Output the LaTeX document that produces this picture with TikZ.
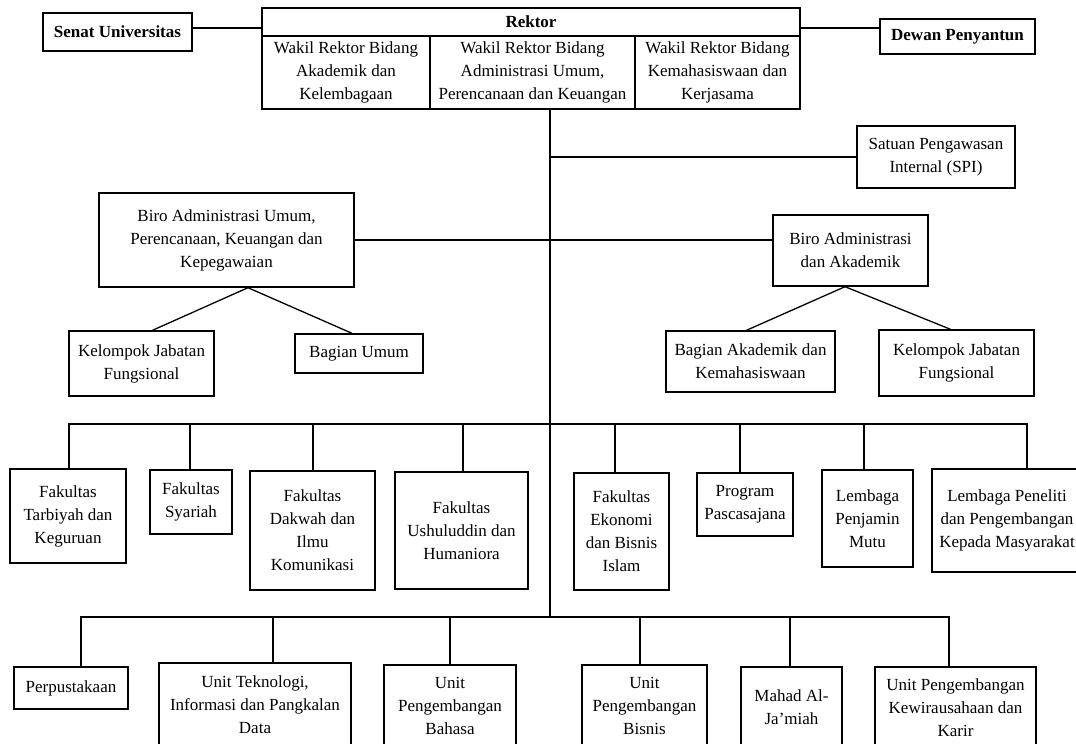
\documentclass[tikz,border=0pt]{standalone}
\usepackage{fontspec}
\setmainfont{Liberation Serif}
\tikzset{
  org box/.style={
    draw,
    line width=1.4pt,
    align=center,
    inner sep=1pt,
    font=\fontsize{17}{23}\selectfont,
  },
  head box/.style={
    org box,
    font=\fontsize{17}{23}\selectfont\bfseries,
  },
  org line/.style={
    line width=1.3pt,
  },
}

\begin{document}
\begin{tikzpicture}[x=1pt, y=-1pt]
        \path[use as bounding box, fill=white] (0,0) rectangle (1076,744);
        \clip (0,0) rectangle (1076,744);

        \node[head box, minimum width=149pt, minimum height=38pt] (senat)  at (117.5,32)   {Senat Universitas};
        \node[head box, minimum width=538pt, minimum height=28pt] (rektor) at (531,22)     {Rektor};
        \node[head box, minimum width=155pt, minimum height=35pt] (dewan)  at (957.5,36.5) {Dewan Penyantun};
        \node[org box,  minimum width=168pt, minimum height=73pt] (wr1)    at (346,72.5)   {Wakil Rektor Bidang\\Akademik dan\\Kelembagaan};
        \node[org box,  minimum width=205pt, minimum height=73pt] (wr2)    at (532.5,72.5) {Wakil Rektor Bidang\\Administrasi Umum,\\Perencanaan dan Keuangan};
        \node[org box,  minimum width=165pt, minimum height=73pt] (wr3)    at (717.5,72.5) {Wakil Rektor Bidang\\Kemahasiswaan dan\\Kerjasama};

        \node[org box, minimum width=158pt, minimum height=62pt] (spi)   at (936,157)     {Satuan Pengawasan\\Internal (SPI)};
        \node[org box, minimum width=255pt, minimum height=94pt] (biroU) at (226.5,240)   {Biro Administrasi Umum,\\Perencanaan, Keuangan dan\\Kepegawaian};
        \node[org box, minimum width=155pt, minimum height=71pt] (biroA) at (850.5,250.5) {Biro Administrasi\\dan Akademik};
        \node[org box, minimum width=145pt, minimum height=65pt] (kjf1)  at (141.5,363.5) {Kelompok Jabatan\\Fungsional};
        \node[org box, minimum width=128pt, minimum height=39pt] (bagU)  at (359,353.5)   {Bagian Umum};
        \node[org box, minimum width=169pt, minimum height=61pt] (bagA)  at (750.5,361.5) {Bagian Akademik dan\\Kemahasiswaan};
        \node[org box, minimum width=155pt, minimum height=66pt] (kjf2)  at (956.5,363)   {Kelompok Jabatan\\Fungsional};

        \node[org box, minimum width=116pt, minimum height=94pt]  (f1) at (68,516)      {Fakultas\\Tarbiyah dan\\Keguruan};
        \node[org box, minimum width=82pt,  minimum height=64pt]  (f2) at (191,502)     {Fakultas\\Syariah};
        \node[org box, minimum width=125pt, minimum height=119pt] (f3) at (312.5,530.5) {Fakultas\\Dakwah dan\\Ilmu\\Komunikasi};
        \node[org box, minimum width=133pt, minimum height=117pt] (f4) at (461.5,530.5) {Fakultas\\Ushuluddin dan\\Humaniora};
        \node[org box, minimum width=95pt,  minimum height=117pt] (f5) at (621.5,531.5) {Fakultas\\Ekonomi\\dan Bisnis\\Islam};
        \node[org box, minimum width=96pt,  minimum height=63pt]  (f6) at (745,504.5)   {Program\\Pascasajana};
        \node[org box, minimum width=91pt,  minimum height=97pt]  (f7) at (867.5,518.5) {Lembaga\\Penjamin\\Mutu};
        \node[org box, minimum width=150pt, minimum height=103pt] (f8) at (1007,520.5)  {Lembaga Peneliti\\dan Pengembangan\\Kepada Masyarakat};

        \node[org box, minimum width=114pt, minimum height=42pt] (b1) at (71,688)      {Perpustakaan};
        \node[org box, minimum width=192pt, minimum height=84pt] (b2) at (255,705)     {Unit Teknologi,\\Informasi dan Pangkalan\\Data};
        \node[org box, minimum width=132pt, minimum height=82pt] (b3) at (450,706)     {Unit\\Pengembangan\\Bahasa};
        \node[org box, minimum width=125pt, minimum height=82pt] (b4) at (644.5,706)   {Unit\\Pengembangan\\Bisnis};
        \node[org box, minimum width=101pt, minimum height=80pt] (b5) at (791.5,707)   {Mahad Al-\\Ja’miah};
        \node[org box, minimum width=161pt, minimum height=82pt] (b6) at (955.5,708)   {Unit Pengembangan\\Kewirausahaan dan\\Karir};

        \coordinate (spine)  at (550,109);
        \coordinate (bus1)   at (550,424);
        \coordinate (bus2)   at (550,617);
        \coordinate (topRow) at ([yshift=-6pt]rektor.center);
        \coordinate (uJoint) at ([xshift=21.5pt]biroU.south);
        \coordinate (aJoint) at ([xshift=-5.5pt]biroA.south);
        \coordinate (bus1L)  at ([xshift=1pt]f1.north |- bus1);
        \coordinate (bus1R)  at ([xshift=20pt]f8.north |- bus1);
        \coordinate (bus2L)  at ([xshift=10pt]b1.north |- bus2);
        \coordinate (bus2R)  at ([xshift=-6.5pt]b6.north |- bus2);

        \draw[org line] (senat.east |- topRow)  -- (rektor.west |- topRow);
        \draw[org line] (rektor.east |- topRow) -- (dewan.west |- topRow);
        \draw[org line] (spine) -- (bus2);
        \draw[org line] (spine |- spi.west) -- (spi.west);
        \draw[org line] (biroU.east) -- (biroU.east -| biroA.west);

        \draw[org line] ([xshift=11pt]kjf1.north) -- (uJoint) -- ([xshift=-7pt]bagU.north);
        \draw[org line] ([xshift=-4pt]bagA.north) -- (aJoint) -- ([xshift=-6pt]kjf2.north);

        \draw[org line] (bus1L) -- (bus1R);
        \foreach \n/\dx in {f1/1, f2/-1, f3/0.5, f4/1.5, f5/-6.5, f6/-5, f7/-3.5, f8/20}
          \draw[org line] ([xshift=\dx pt]\n.north) |- (bus1);

        \draw[org line] (bus2L) -- (bus2R);
        \foreach \n/\dx in {b1/10, b2/18, b3/0, b4/-4.5, b5/-1.5, b6/-6.5}
          \draw[org line] ([xshift=\dx pt]\n.north) |- (bus2);
\end{tikzpicture}
\end{document}
